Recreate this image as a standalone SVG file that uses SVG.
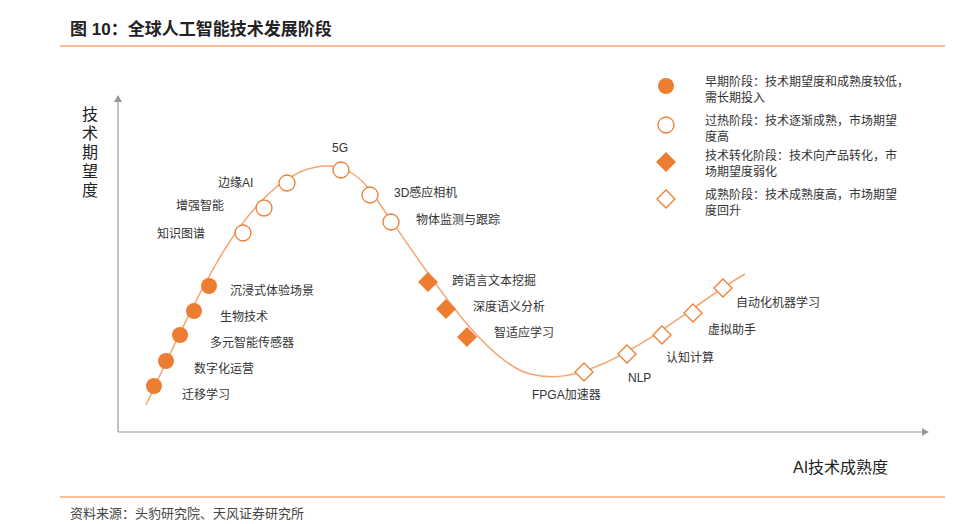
<svg xmlns="http://www.w3.org/2000/svg" width="960" height="524" viewBox="0 0 960 524">
<style>
text{font-family:"Liberation Sans","Noto Sans CJK SC",sans-serif;fill:#333;font-size:12px}
.t{font-size:17px;font-weight:bold;fill:#222}
.ax{font-size:16px;fill:#222}
.f{fill:#ED7D31}
.o{fill:#fff;stroke:#ED7D31;stroke-width:1.3}
.c{fill:none;stroke:#F4A672;stroke-width:1.5}
.a{stroke:#999;stroke-width:1.2;fill:none}
</style>
<defs>
<marker id="ar" markerWidth="8" markerHeight="8" refX="6" refY="4" orient="auto" markerUnits="userSpaceOnUse"><path d="M0,0 L7,4 L0,8 z" fill="#999"/></marker>
<circle id="cf" r="8" class="f"/>
<circle id="co" r="8" class="o"/>
<path id="df" d="M0,-10 L10,0 L0,10 L-10,0 z" class="f"/>
<path id="do" d="M0,-9 L9,0 L0,9 L-9,0 z" class="o"/>
</defs>
<rect width="960" height="524" fill="#fff"/>
<text x="70" y="35" class="t">图 10：全球人工智能技术发展阶段</text>
<line x1="60" y1="46" x2="945" y2="46" stroke="#ED7D31" stroke-width="1"/>
<line x1="60" y1="497" x2="945" y2="497" stroke="#ED7D31" stroke-width="1"/>
<text x="70" y="518" style="font-size:13px;fill:#444">资料来源：头豹研究院、天风证券研究所</text>
<g id="connectors">
<line x1="118" y1="432" x2="118" y2="96" class="a" marker-end="url(#ar)"/>
<line x1="118" y1="432" x2="928" y2="432" class="a" marker-end="url(#ar)"/>
<path class="c" d="M146,405 C200,290 240,200 300,172 C325,162 350,162 372,193 C420,260 480,360 530,374 C555,380 575,376 605,363 C660,337 700,300 745,274"/>
</g>
<text x="82" y="120" class="ax">技</text><text x="82" y="139" class="ax">术</text><text x="82" y="158" class="ax">期</text><text x="82" y="177" class="ax">望</text><text x="82" y="196" class="ax">度</text>
<text x="793" y="473" class="ax">AI技术成熟度</text>
<g id="n1"><use href="#cf" x="154" y="386"/><text x="182" y="399">迁移学习</text></g>
<g id="n2"><use href="#cf" x="166" y="361"/><text x="194" y="373">数字化运营</text></g>
<g id="n3"><use href="#cf" x="180" y="335"/><text x="210" y="347">多元智能传感器</text></g>
<g id="n4"><use href="#cf" x="194" y="311"/><text x="220" y="321">生物技术</text></g>
<g id="n5"><use href="#cf" x="209" y="286"/><text x="230" y="295">沉浸式体验场景</text></g>
<g id="n6"><use href="#co" x="243" y="233"/><text x="157" y="238">知识图谱</text></g>
<g id="n7"><use href="#co" x="264" y="208"/><text x="176" y="210">增强智能</text></g>
<g id="n8"><use href="#co" x="287" y="183"/><text x="218" y="187">边缘AI</text></g>
<g id="n9"><use href="#co" x="341" y="170"/><text x="332" y="152">5G</text></g>
<g id="n10"><use href="#co" x="370" y="195"/><text x="394" y="197">3D感应相机</text></g>
<g id="n11"><use href="#co" x="391" y="222"/><text x="416" y="224">物体监测与跟踪</text></g>
<g id="n12"><use href="#df" x="428" y="282"/><text x="452" y="285">跨语言文本挖掘</text></g>
<g id="n13"><use href="#df" x="446" y="309"/><text x="473" y="311">深度语义分析</text></g>
<g id="n14"><use href="#df" x="467" y="337"/><text x="494" y="337">智适应学习</text></g>
<g id="n15"><use href="#do" x="584" y="372"/><text x="532" y="399">FPGA加速器</text></g>
<g id="n16"><use href="#do" x="627" y="354"/><text x="628" y="382">NLP</text></g>
<g id="n17"><use href="#do" x="662" y="335"/><text x="666" y="362">认知计算</text></g>
<g id="n18"><use href="#do" x="693" y="313"/><text x="708" y="334">虚拟助手</text></g>
<g id="n19"><use href="#do" x="723" y="288"/><text x="736" y="307">自动化机器学习</text></g>
<g id="legend">
<use href="#cf" x="666" y="86"/><text x="705" y="86">早期阶段：技术期望度和成熟度较低，</text><text x="705" y="102">需长期投入</text>
<use href="#co" x="666" y="125"/><text x="705" y="125">过热阶段：技术逐渐成熟，市场期望</text><text x="705" y="141">度高</text>
<use href="#df" x="666" y="162"/><text x="705" y="160">技术转化阶段：技术向产品转化，市</text><text x="705" y="176">场期望度弱化</text>
<use href="#do" x="666" y="199"/><text x="705" y="199">成熟阶段：技术成熟度高，市场期望</text><text x="705" y="215">度回升</text>
</g>
</svg>
